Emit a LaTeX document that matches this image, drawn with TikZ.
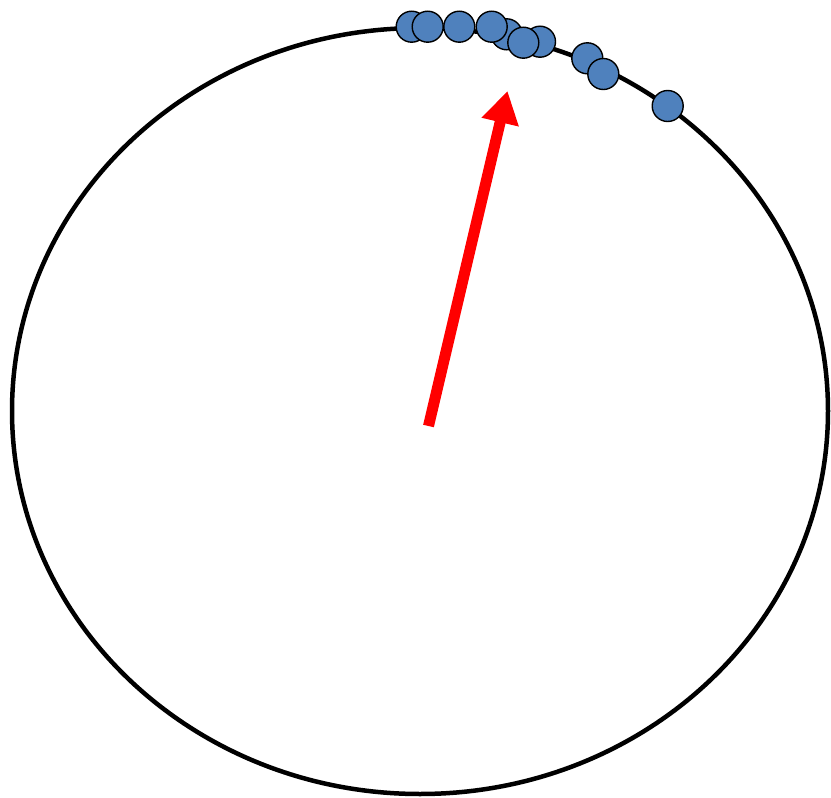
\documentclass[tikz,border=0pt]{standalone}
\usetikzlibrary{arrows.meta}
\definecolor{dotblue}{HTML}{4F81BD}
\tikzset{
  ring/.style={draw=black, line width=4.5pt},
  bead/.style={circle, draw=black, line width=1.4pt, fill=dotblue, minimum size=31pt, inner sep=0pt},
  pointer/.style={draw=red, line width=11pt, -{Triangle[length=32pt,width=36pt]}}
}
\begin{document}
\begin{tikzpicture}[x=1pt,y=-1pt]
\useasboundingbox (0,0) rectangle (831,798);
\draw[ring] (420,411) ellipse [x radius=408, y radius=383];
\coordinate (tail) at (428.5,426);
\coordinate (tip) at (507.5,91);
\draw[pointer] (tail) -- (tip);
\node[bead] (d1) at (411.7,26.7) {};
\node[bead] (d2) at (427.7,26.7) {};
\node[bead] (d3) at (459.3,26.7) {};
\node[bead] (d4) at (506.7,34.3) {};
\node[bead] (d5) at (491.7,26.7) {};
\node[bead] (d6) at (540,41.7) {};
\node[bead] (d7) at (523.3,42.7) {};
\node[bead] (d8) at (587.3,58.3) {};
\node[bead] (d9) at (603.3,74) {};
\node[bead] (d10) at (667.7,106) {};
\end{tikzpicture}
\end{document}
